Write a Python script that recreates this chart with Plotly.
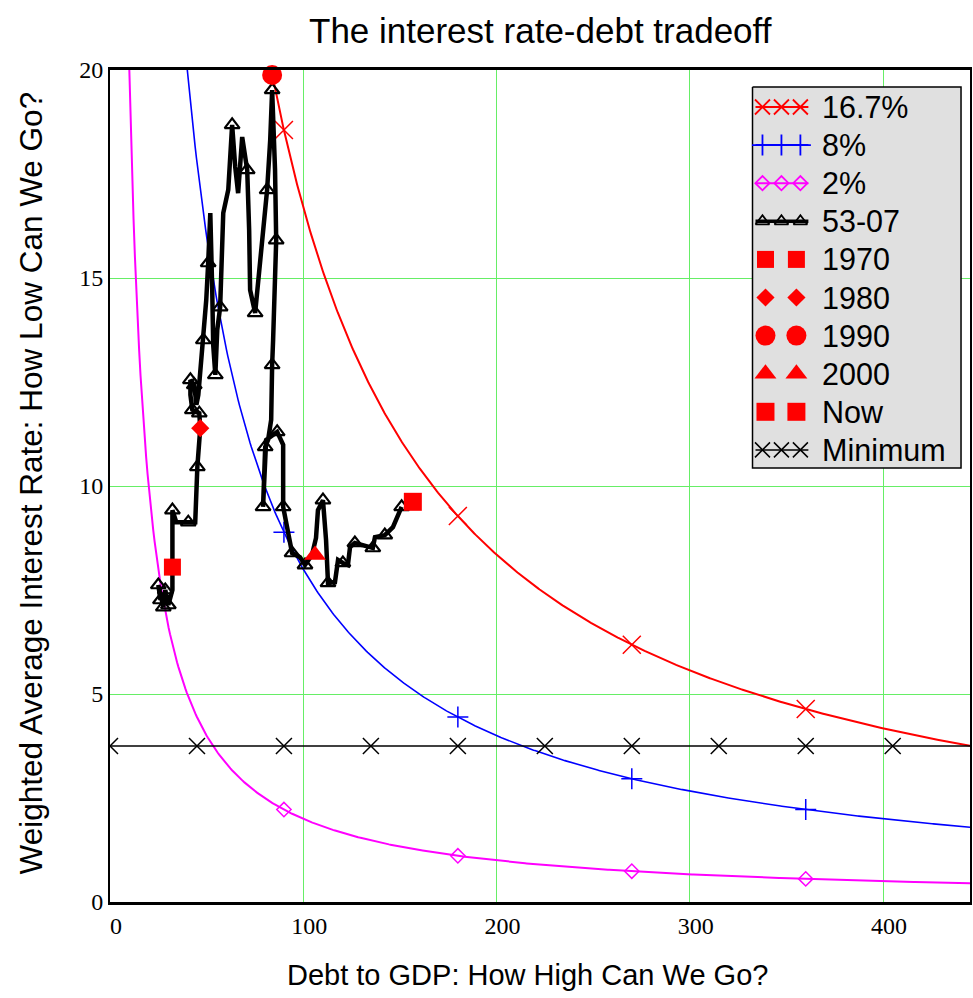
import numpy as np
import plotly.graph_objects as go

# ---- data -------------------------------------------------------------
# constant-burden curves: interest cost as a share of GDP (percent)
burden_labels = ["16.7%", "8%", "2%"]
burden_levels = [16.7, 8.0, 2.0]
burden_colors = ["#ff0000", "#0000ff", "#ff00ff"]
burden_symbols = ["x-thin", "cross-thin", "diamond-open"]
curve_mark_debt = [90, 180, 270, 360]

# floor on the weighted average rate
minimum_rate = 3.75
minimum_mark_debt = [0, 45, 90, 135, 180, 225, 270, 315, 360, 405]

# 1953-2007 path: debt to GDP (%) and weighted average interest rate (%)
path_debt = [26.1, 25.0, 27.6, 28.6, 30.2, 32.3, 32.3, 34.3, 40.5, 44.1,
             45.2, 46.2, 46.7, 46.2, 42.6, 41.6, 41.6, 43.6, 44.7, 45.7,
             48.3, 49.8, 50.8, 51.9, 52.9, 53.4, 54.5, 55.5, 57.0, 58.6,
             61.2, 63.2, 64.8, 66.3, 68.4, 71.0, 72.0, 72.5, 75.1, 78.7,
             80.3, 81.3, 82.9, 83.9, 85.4, 86.0, 84.4, 83.9, 83.4, 81.8,
             80.3, 79.2, 80.8, 86.5, 89.6, 89.6, 92.2, 94.2, 98.3, 100.9,
             104.5, 106.6, 107.6, 110.2, 111.8, 112.8, 116.4, 118.0, 120.5, 123.1,
             124.2, 126.7, 134.5, 136.0, 137.1, 142.2, 146.4, 148.9, 150.9]
path_rate = [7.26, 7.62, 7.09, 7.50, 7.14, 7.50, 9.42, 9.13, 9.13, 9.13,
             10.46, 11.10, 11.39, 11.75, 11.83, 12.19, 12.55, 12.43, 11.95, 12.19,
             13.51, 14.47, 15.36, 16.56, 14.71, 13.39, 12.67, 13.75, 14.30, 16.56,
             17.12, 18.68, 17.67, 17.04, 18.39, 17.60, 16.15, 14.71, 14.16, 15.75,
             16.56, 17.12, 18.32, 19.52, 17.60, 15.91, 13.51, 12.91, 11.59, 11.11,
             10.94, 9.50, 11.11, 11.30, 10.99, 9.50, 8.89, 8.39, 8.29, 8.10,
             8.34, 8.75, 9.42, 9.66, 8.70, 7.67, 7.69, 8.22, 8.15, 8.10,
             8.53, 8.63, 8.53, 8.51, 8.77, 8.82, 9.01, 9.30, 9.50]
# positions in the path that are yearly observations
path_obs = [0, 1, 2, 3, 4, 6, 8, 10, 13, 14, 16, 17, 20, 22, 26, 28, 31, 35,
            38, 41, 43, 45, 47, 50, 51, 53, 55, 57, 59, 63, 65, 68, 71, 73,
            75, 78]

# highlighted years
year_labels = ["1970", "1980", "1990", "2000", "Now"]
year_debt = [32.3, 46.7, 83.9, 106.1, 156.7]
year_rate = [8.05, 11.39, 19.88, 8.34, 9.62]
year_symbols = ["square", "diamond", "circle", "triangle-up", "square"]
year_sizes = [17, 14, 20, 19, 18]

X_MAX = 445
Y_MAX = 20

fig = go.Figure()

# constant-burden hyperbolas: rate = burden * 100 / debt
for lab, lvl, col, sym in zip(burden_labels, burden_levels, burden_colors, burden_symbols):
    x0 = lvl * 100 / Y_MAX
    xs = np.linspace(x0, X_MAX, 600)
    fig.add_trace(go.Scatter(x=xs, y=lvl * 100 / xs, mode="lines",
                             line=dict(color=col, width=2 if col != "#0000ff" else 1.6),
                             showlegend=False, hoverinfo="skip"))
    mx = np.array(curve_mark_debt, dtype=float)
    msize = 18 if sym == "x-thin" else (15 if sym == "cross-thin" else 11)
    fig.add_trace(go.Scatter(x=mx, y=lvl * 100 / mx, mode="markers",
                             marker=dict(symbol=sym, size=msize, color=col,
                                         line=dict(color=col, width=1.5)),
                             showlegend=False))

# minimum rate line
fig.add_trace(go.Scatter(x=[0, X_MAX], y=[minimum_rate, minimum_rate], mode="lines",
                         line=dict(color="black", width=1.5), showlegend=False))
fig.add_trace(go.Scatter(x=minimum_mark_debt, y=[minimum_rate] * len(minimum_mark_debt),
                         mode="markers", cliponaxis=True,
                         marker=dict(symbol="x-thin", size=16, color="black",
                                     line=dict(color="black", width=1.5)),
                         showlegend=False))

# historical path
fig.add_trace(go.Scatter(x=path_debt, y=path_rate, mode="lines",
                         line=dict(color="black", width=4.5), showlegend=False))
fig.add_trace(go.Scatter(x=[path_debt[i] for i in path_obs],
                         y=[path_rate[i] for i in path_obs], mode="markers",
                         marker=dict(symbol="triangle-up-open", size=13, color="black",
                                     line=dict(color="black", width=2.2)),
                         showlegend=False))

# highlighted years
for lab, xd, yd, sym, sz in zip(year_labels, year_debt, year_rate, year_symbols, year_sizes):
    fig.add_trace(go.Scatter(x=[xd], y=[yd], mode="markers", cliponaxis=False,
                             marker=dict(symbol=sym, size=sz, color="#ff0000"),
                             showlegend=False))

# ---- legend box drawn in a pixel-space overlay ---------------------------
LX0, LX1, LY0, LY1 = 754, 963, 87, 468
fig.add_trace(go.Scatter(x=[LX0, LX1, LX1, LX0, LX0], y=[LY0, LY0, LY1, LY1, LY0],
                         xaxis="x2", yaxis="y2", mode="lines", fill="toself",
                         fillcolor="#e0e0e0", line=dict(color="black", width=1.5),
                         showlegend=False, hoverinfo="skip"))

legend_labels = burden_labels + ["53-07"] + year_labels + ["Minimum"]
row_y = [107 + 38.1 * i for i in range(len(legend_labels))]

line_entries = [
    ("#ff0000", "x-thin", 15, 2),
    ("#0000ff", "cross-thin", 15, 2),
    ("#ff00ff", "diamond-open", 11, 2),
    ("black", "triangle-up-open", 12, 3.5),
]
for (col, sym, sz, lw), ry in zip(line_entries, row_y[:4]):
    fig.add_trace(go.Scatter(x=[757, 810], y=[ry, ry], xaxis="x2", yaxis="y2",
                             mode="lines", line=dict(color=col, width=lw),
                             showlegend=False, hoverinfo="skip"))
    fig.add_trace(go.Scatter(x=[764, 783, 802], y=[ry] * 3, xaxis="x2", yaxis="y2",
                             mode="markers",
                             marker=dict(symbol=sym, size=sz, color=col,
                                         line=dict(color=col, width=1.8)),
                             showlegend=False, hoverinfo="skip"))

for sym, sz, ry in zip(year_symbols, year_sizes, row_y[4:9]):
    fig.add_trace(go.Scatter(x=[767, 798], y=[ry, ry], xaxis="x2", yaxis="y2",
                             mode="markers", marker=dict(symbol=sym, size=sz, color="#ff0000"),
                             showlegend=False, hoverinfo="skip"))

ry = row_y[9]
fig.add_trace(go.Scatter(x=[757, 810], y=[ry, ry], xaxis="x2", yaxis="y2",
                         mode="lines", line=dict(color="black", width=1.5),
                         showlegend=False, hoverinfo="skip"))
fig.add_trace(go.Scatter(x=[764, 783, 802], y=[ry] * 3, xaxis="x2", yaxis="y2",
                         mode="markers",
                         marker=dict(symbol="x-thin", size=15, color="black",
                                     line=dict(color="black", width=1.5)),
                         showlegend=False, hoverinfo="skip"))

annotations = []
for lab, ry in zip(legend_labels, row_y):
    annotations.append(dict(x=822, y=ry, xref="x2", yref="y2", text=lab,
                            showarrow=False, xanchor="left", yanchor="middle",
                            font=dict(family="Liberation Sans", size=30.5, color="black")))

# titles
annotations.append(dict(x=0.501, y=1.048, xref="paper", yref="paper",
                        text="The interest rate-debt tradeoff", showarrow=False,
                        xanchor="center", yanchor="middle",
                        font=dict(family="Liberation Sans", size=35, color="black")))
annotations.append(dict(x=0.485, y=-0.088, xref="paper", yref="paper",
                        text="Debt to GDP: How High Can We Go?", showarrow=False,
                        xanchor="center", yanchor="middle",
                        font=dict(family="Liberation Sans", size=29, color="black")))
annotations.append(dict(x=-0.093, y=0.503, xref="paper", yref="paper",
                        text="Weighted Average Interest Rate: How Low Can We Go?",
                        showarrow=False, textangle=-90,
                        xanchor="center", yanchor="middle",
                        font=dict(family="Liberation Sans", size=31.5, color="black")))

grid_col = "#66ee66"
fig.update_layout(
    width=973, height=998,
    margin=dict(l=110, r=1, t=70, b=96, pad=0),
    paper_bgcolor="white", plot_bgcolor="white",
    showlegend=False,
    xaxis=dict(range=[0, X_MAX], tickvals=[0, 100, 200, 300, 400],
               showgrid=True, gridcolor=grid_col, gridwidth=1, zeroline=False,
               showline=True, linecolor="black", linewidth=3, mirror=True,
               ticks="", ticklabelshift=6,
               tickfont=dict(family="Liberation Serif", size=24, color="black")),
    yaxis=dict(range=[0, Y_MAX], tickvals=[0, 5, 10, 15, 20],
               showgrid=True, gridcolor=grid_col, gridwidth=1, zeroline=False,
               showline=True, linecolor="black", linewidth=2, mirror=True,
               ticks="",
               tickfont=dict(family="Liberation Serif", size=24, color="black")),
    xaxis2=dict(overlaying="x", range=[110, 972], visible=False),
    yaxis2=dict(overlaying="y", range=[902, 70], visible=False),
    annotations=annotations,
)

fig.write_html("out.html")
